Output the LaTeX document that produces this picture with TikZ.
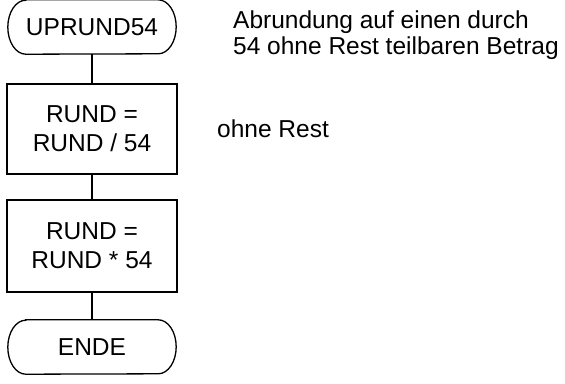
\documentclass[tikz,border=0pt]{standalone}
\usepackage{fontspec}
\setmainfont{Liberation Sans}
\begin{document}
\begin{tikzpicture}[x=1pt,y=1pt,
  flowline/.style={line width=1.3pt, black},
  terminal/.style={minimum width=168pt, minimum height=54pt, inner sep=0pt,
    font=\fontsize{24.5}{29}\selectfont},
  process/.style={draw, flowline, minimum width=170pt, inner sep=0pt, align=center,
    font=\fontsize{24.5}{29}\selectfont},
  remark/.style={anchor=base west, inner sep=0pt, align=left,
    font=\fontsize{24.5}{26}\selectfont}]
  \useasboundingbox (0,0) rectangle (565,-383);

  % flow chart elements
  \node[terminal] (start) at (92,-27) {UPRUND54};
  \node[process, minimum height=90pt] (div) at (92,-129) {RUND =\\RUND / 54};
  \node[process, minimum height=92pt] (mul) at (92,-246) {RUND =\\RUND * 54};
  \node[terminal] (stop) at (92,-347) {ENDE};

  % terminal outlines with elliptic ends
  \foreach \n in {start,stop}
    \draw[flowline] ([xshift=18pt]\n.north west) -- ([xshift=-18pt]\n.north east)
      arc[start angle=90, end angle=-90, x radius=18pt, y radius=27pt]
      -- ([xshift=18pt]\n.south west)
      arc[start angle=270, end angle=90, x radius=18pt, y radius=27pt] -- cycle;

  % connectors
  \draw[flowline] (start.south) -- (div.north);
  \draw[flowline] (div.south) -- (mul.north);
  \draw[flowline] (mul.south) -- (stop.north);

  % remarks (base anchor sits on the last line)
  \node[remark] (note1) at (233,-54) {Abrundung auf einen durch\\54 ohne Rest teilbaren Betrag};
  \node[remark] (note2) at (217,-137) {ohne Rest};
\end{tikzpicture}
\end{document}
